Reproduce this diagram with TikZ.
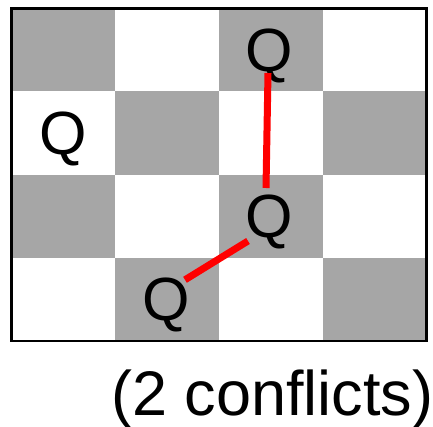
\documentclass[tikz,border=0pt]{standalone}
\usepackage{fontspec}
\setmainfont{Liberation Sans}
\usetikzlibrary{calc}
\definecolor{sqgray}{RGB}{166,166,166}
\begin{document}
\begin{tikzpicture}[x=1pt,y=-1pt,
  queen/.style={anchor=base,inner sep=0pt,font=\fontsize{61}{72}\selectfont},
  conflict/.style={red,line width=7pt},
  frame/.style={draw=black,line width=2.5pt},
  caption/.style={anchor=base west,inner sep=0pt,font=\fontsize{63}{74}\selectfont}]
\useasboundingbox (0,0) rectangle (433,427);
% board squares
\foreach \r in {0,...,3}{
  \foreach \c in {0,...,3}{
    \pgfmathtruncatemacro{\sqpar}{mod(\r+\c,2)}
    \ifnum\sqpar=0
      \fill[sqgray] (11.7+\c*103.75, 8.3+\r*83.2) rectangle ++(103.75,83.2);
    \fi
  }
}
\draw[frame] (11.7,8.3) rectangle (426.7,341);
% queens
\node[queen] (q1) at (269.5,71.5) {Q};
\node[queen] (q2) at (63.5,154.5) {Q};
\node[queen] (q3) at (269.5,238) {Q};
\node[queen] (q4) at (166.5,320.8) {Q};
% conflict endpoints
\coordinate (a1) at ($(q1.base)+(-1.5,1.5)$);
\coordinate (b1) at ($(q3.base)+(-3.5,-50)$);
\coordinate (a2) at ($(q4.base)+(18.5,-41)$);
\coordinate (b2) at ($(q3.base)+(-21.5,3)$);
\draw[conflict] (a1) -- (b1);
\draw[conflict] (a2) -- (b2);
% caption
\node[caption] (lbl) at (111,415) {(2 conflicts)};
\end{tikzpicture}
\end{document}
